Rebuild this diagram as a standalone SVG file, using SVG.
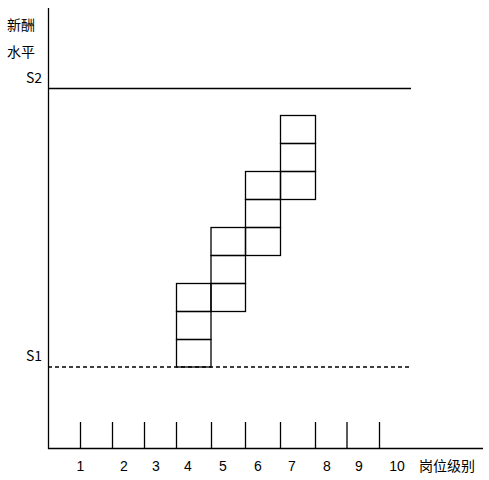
<svg xmlns="http://www.w3.org/2000/svg" width="489" height="480" viewBox="0 0 489 480">
<style>
.ln{stroke:#000;stroke-width:1.3;fill:none}
.cell{stroke:#000;stroke-width:1.3;fill:none}
.t{font-family:"Microsoft YaHei","Noto Sans CJK SC","Liberation Sans",sans-serif;font-size:14px;fill:#000}
.n{font-family:"Liberation Sans","Noto Sans",sans-serif;font-size:14px;fill:#000;text-anchor:middle}
</style>
<rect width="489" height="480" fill="#fff"/>
<g id="axes">
<line class="ln" x1="48.5" y1="8" x2="48.5" y2="449"/>
<line class="ln" x1="48" y1="448.5" x2="483" y2="448.5"/>
<text class="t" x="7" y="30">新酬</text>
<text class="t" x="7" y="57">水平</text>
<text class="t" x="26" y="83">S2</text>
<text class="t" x="26" y="361">S1</text>
<text class="t" x="419" y="471">岗位级别</text>
</g>
<g id="levels">
<line class="ln" x1="48" y1="88.5" x2="411" y2="88.5"/>
<line class="ln" x1="48" y1="367" x2="411" y2="367" stroke-dasharray="4 3"/>
</g>
<g id="ticks">
<line class="ln" x1="80.5" y1="422" x2="80.5" y2="448"/>
<line class="ln" x1="112.5" y1="422" x2="112.5" y2="448"/>
<line class="ln" x1="144.5" y1="422" x2="144.5" y2="448"/>
<line class="ln" x1="176.5" y1="422" x2="176.5" y2="448"/>
<line class="ln" x1="211.5" y1="422" x2="211.5" y2="448"/>
<line class="ln" x1="245.5" y1="422" x2="245.5" y2="448"/>
<line class="ln" x1="280.5" y1="422" x2="280.5" y2="448"/>
<line class="ln" x1="315.5" y1="422" x2="315.5" y2="448"/>
<line class="ln" x1="347" y1="422" x2="347" y2="448"/>
<line class="ln" x1="379.5" y1="422" x2="379.5" y2="448"/>
</g>
<g id="tick-labels">
<text class="n" x="80.5" y="471">1</text>
<text class="n" x="124" y="471">2</text>
<text class="n" x="156" y="471">3</text>
<text class="n" x="188" y="471">4</text>
<text class="n" x="223" y="471">5</text>
<text class="n" x="258" y="471">6</text>
<text class="n" x="292" y="471">7</text>
<text class="n" x="327" y="471">8</text>
<text class="n" x="359" y="471">9</text>
<text class="n" x="397" y="471">10</text>
</g>
<g id="grade-4">
<rect class="cell" x="176.5" y="283.5" width="34.5" height="28"/>
<rect class="cell" x="176.5" y="311.5" width="34.5" height="28"/>
<rect class="cell" x="176.5" y="339.5" width="34.5" height="27.5"/>
</g>
<g id="grade-5">
<rect class="cell" x="211" y="227.5" width="34.5" height="28"/>
<rect class="cell" x="211" y="255.5" width="34.5" height="28"/>
<rect class="cell" x="211" y="283.5" width="34.5" height="28"/>
</g>
<g id="grade-6">
<rect class="cell" x="245.5" y="171.5" width="35" height="28"/>
<rect class="cell" x="245.5" y="199.5" width="35" height="28"/>
<rect class="cell" x="245.5" y="227.5" width="35" height="28"/>
</g>
<g id="grade-7">
<rect class="cell" x="280.5" y="115.5" width="35" height="28"/>
<rect class="cell" x="280.5" y="143.5" width="35" height="28"/>
<rect class="cell" x="280.5" y="171.5" width="35" height="28"/>
</g>
</svg>
